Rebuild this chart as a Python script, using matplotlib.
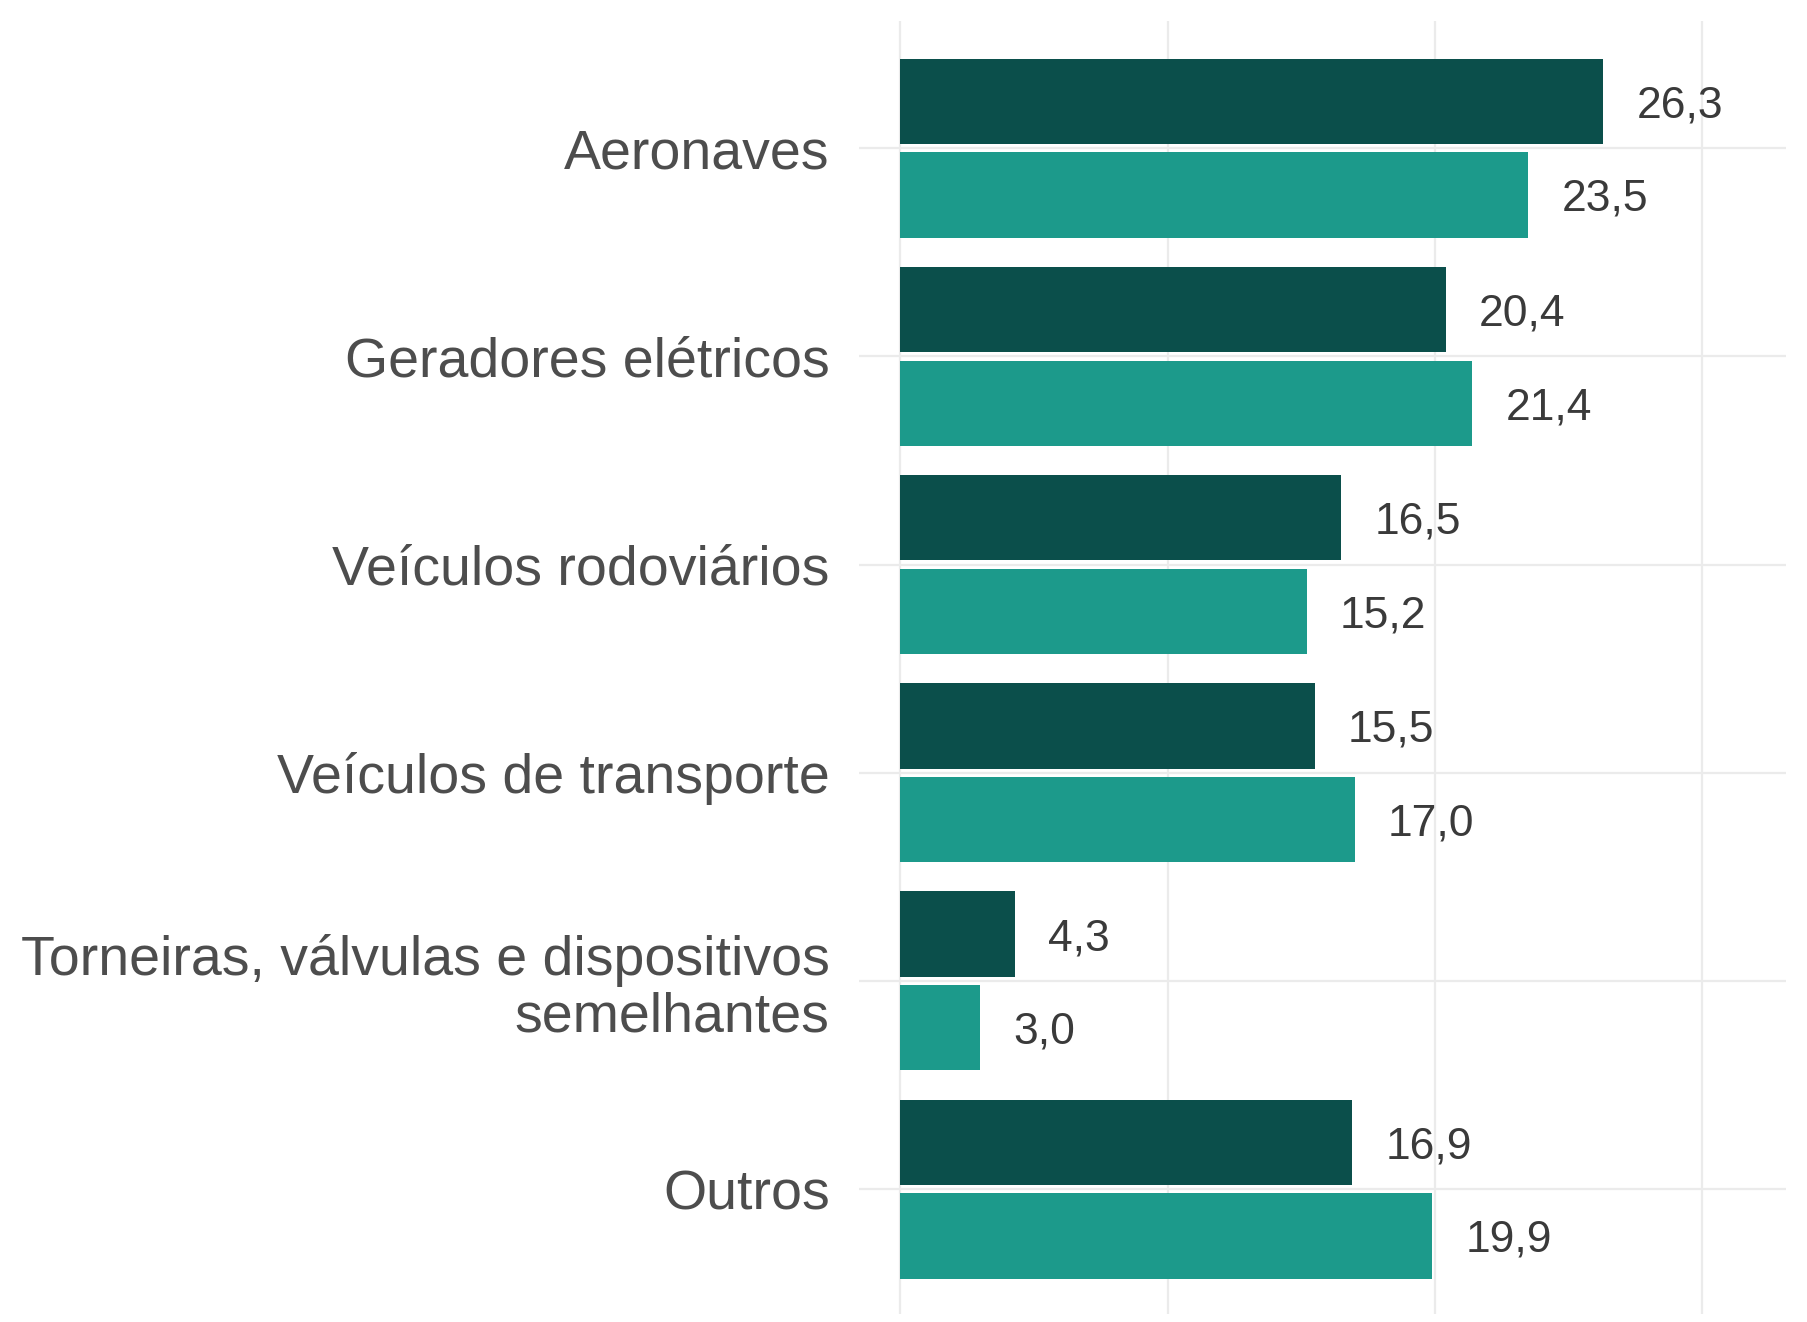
import matplotlib.pyplot as plt
import numpy as np

categories = ['Aeronaves', 'Geradores elétricos', 'Veículos rodoviários',
              'Veículos de transporte',
              'Torneiras, válvulas e dispositivos\nsemelhantes', 'Outros']
serie_a = [26.3, 20.4, 16.5, 15.5, 4.3, 16.9]
serie_b = [23.5, 21.4, 15.2, 17.0, 3.0, 19.9]

cor_a = '#0b4f4b'
cor_b = '#1c9a8b'

plt.rcParams['font.family'] = ['Liberation Sans', 'DejaVu Sans']

fig = plt.figure(figsize=(18.08, 13.22), dpi=100)
ax = fig.add_axes([0.475, 0.006, 0.513, 0.978])

y = np.arange(len(categories))
altura = 0.41
desloc = 0.225

ax.barh(y - desloc, serie_a, height=altura, color=cor_a, zorder=2)
ax.barh(y + desloc, serie_b, height=altura, color=cor_b, zorder=2)

# rótulos de valor
for pos, val in zip(y - desloc, serie_a):
    ax.annotate(f'{val:.1f}'.replace('.', ','), (val, pos), xytext=(24, 0),
                textcoords='offset points', ha='left', va='center_baseline',
                fontsize=32, color='#3a3a3a')
for pos, val in zip(y + desloc, serie_b):
    ax.annotate(f'{val:.1f}'.replace('.', ','), (val, pos), xytext=(24, 0),
                textcoords='offset points', ha='left', va='center_baseline',
                fontsize=32, color='#3a3a3a')

ax.set_xlim(-1.55, 33.15)
ax.set_ylim(len(categories) - 1 + 0.6, -0.61)
ax.set_xticks([0, 10, 20, 30])
ax.set_xticklabels([])
ax.set_yticks(y)
ax.set_yticklabels(categories, fontsize=40, color='#4d4d4d', linespacing=1.1)
ax.tick_params(axis='both', length=0)
ax.tick_params(axis='y', pad=21)

ax.grid(True, color='#ebebeb', linewidth=1.6)
ax.set_axisbelow(True)
for s in ax.spines.values():
    s.set_visible(False)

fig.savefig('out.png', dpi=100, facecolor='white')
